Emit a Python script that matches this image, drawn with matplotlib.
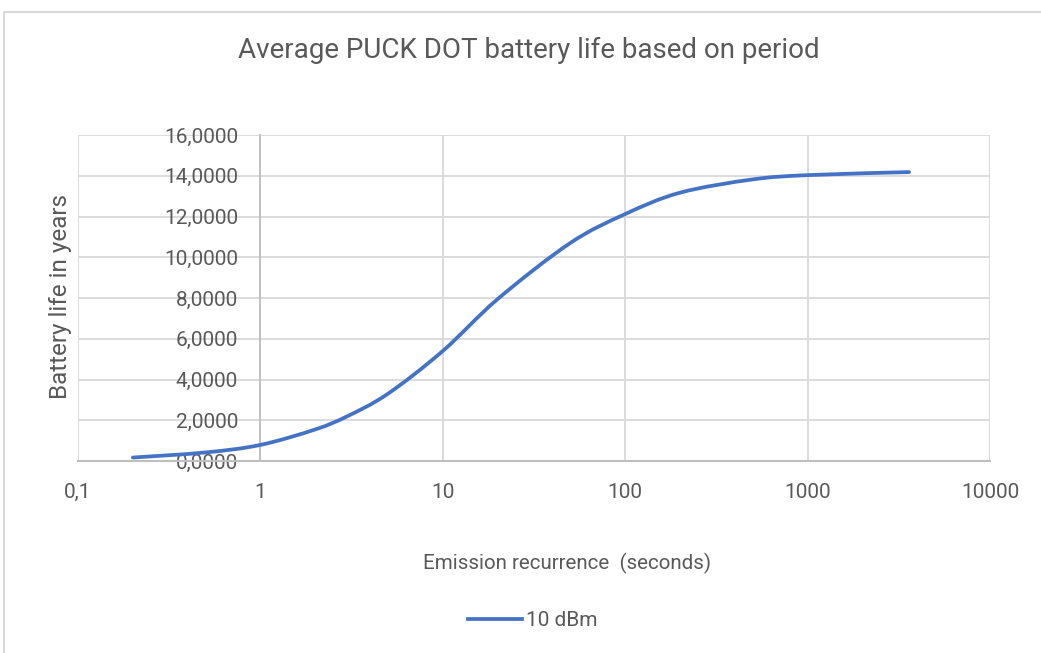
import matplotlib

matplotlib.use("Agg")
import matplotlib.pyplot as plt
import numpy as np
from matplotlib.lines import Line2D
from matplotlib.patches import PathPatch, Rectangle
from matplotlib.path import Path
from matplotlib.ticker import FixedLocator, FixedFormatter, NullLocator

# ---------------------------------------------------------------- data
period_s = [0.2, 0.5, 1, 2, 3, 5, 10, 20, 50, 100, 200, 500, 1000, 3600]
life_years = [0.17, 0.42, 0.79, 1.55, 2.2, 3.3, 5.4, 7.95, 10.7, 12.12, 13.17, 13.82,
              14.03, 14.18]
series_name = "10 dBm"

x_ticks = [0.1, 1, 10, 100, 1000, 10000]
x_tick_labels = ["0,1", "1", "10", "100", "1000", "10000"]
y_ticks = [0, 2, 4, 6, 8, 10, 12, 14, 16]
y_tick_labels = ["0,0000", "2,0000", "4,0000", "6,0000", "8,0000",
                 "10,0000", "12,0000", "14,0000", "16,0000"]

title = "Average PUCK DOT battery life based on period"
x_label = "Emission recurrence  (seconds)"
y_label = "Battery life in years"

# ---------------------------------------------------------------- style
TEXT = "#595959"
GRID = "#d9d9d9"
AXIS = "#bfbfbf"
BLUE = "#4472c4"
LW = 2.7
plt.rcParams["font.family"] = ["Roboto", "DejaVu Sans"]


def smooth_path(xs, ys):
    """Excel-style smoothed line: cubic Bezier through every point (tension 1/6),
    built in log10(x) space so it stays smooth on the log axis."""
    u = np.log10(np.asarray(xs, dtype=float))
    v = np.asarray(ys, dtype=float)
    pts = np.column_stack([u, v])
    n = len(pts)
    verts, codes = [pts[0]], [Path.MOVETO]
    for i in range(n - 1):
        p0 = pts[max(i - 1, 0)]
        p1, p2 = pts[i], pts[i + 1]
        p3 = pts[min(i + 2, n - 1)]
        verts += [p1 + (p2 - p0) / 6, p2 - (p3 - p1) / 6, p2]
        codes += [Path.CURVE4] * 3
    verts = np.array(verts)
    verts[:, 0] = 10 ** verts[:, 0]
    return Path(verts, codes)


W, H = 1041, 653
fig = plt.figure(figsize=(W / 100, H / 100), dpi=100)
fig.patch.set_facecolor("white")

# chart-area border (runs off the right and bottom edges)
fig.add_artist(Rectangle((4 / W, -0.05), 1.1, 1 - 12 / H + 0.05, transform=fig.transFigure,
                         fill=False, edgecolor=GRID, linewidth=1.5))

ax = fig.add_axes([78 / W, 1 - 461 / H, (990 - 78) / W, (461 - 135) / H])
ax.set_xscale("log")
ax.set_xlim(0.1, 10000)
ax.set_ylim(0, 16)
ax.add_patch(PathPatch(smooth_path(period_s, life_years), facecolor="none", edgecolor=BLUE,
                       linewidth=LW, capstyle="round", zorder=3))

ax.xaxis.set_major_locator(FixedLocator(x_ticks))
ax.xaxis.set_major_formatter(FixedFormatter(x_tick_labels))
ax.xaxis.set_minor_locator(NullLocator())
ax.yaxis.set_major_locator(FixedLocator(y_ticks))
ax.yaxis.set_major_formatter(FixedFormatter(y_tick_labels))

ax.grid(True, color=GRID, linewidth=1.3, zorder=0)
ax.set_axisbelow(True)
for s in ("top", "right"):
    ax.spines[s].set_visible(False)
ax.spines["left"].set_position(("data", 1))
ax.spines["left"].set_color(AXIS)
ax.spines["left"].set_linewidth(1.3)
ax.spines["bottom"].set_color(AXIS)
ax.spines["bottom"].set_linewidth(1.5)

ax.tick_params(axis="both", length=0, labelsize=15, labelcolor=TEXT)
ax.tick_params(axis="y", pad=16)
ax.tick_params(axis="x", pad=16)

fig.text(529 / W, 1 - 50 / H, title, ha="center", va="center", fontsize=20, color=TEXT)
fig.text(567 / W, 1 - 563 / H, x_label, ha="center", va="center", fontsize=14.8, color=TEXT)
fig.text(61 / W, 1 - 297 / H, y_label, ha="center", va="center", rotation=90,
         fontsize=17.5, color=TEXT)

handle = Line2D([], [], color=BLUE, linewidth=LW)
fig.legend([handle], [series_name], loc="center", bbox_to_anchor=(533 / W, 1 - 621 / H),
           frameon=False, fontsize=15, handlelength=2.6, handletextpad=0.2, labelcolor=TEXT)

fig.savefig("out.png", dpi=100)
